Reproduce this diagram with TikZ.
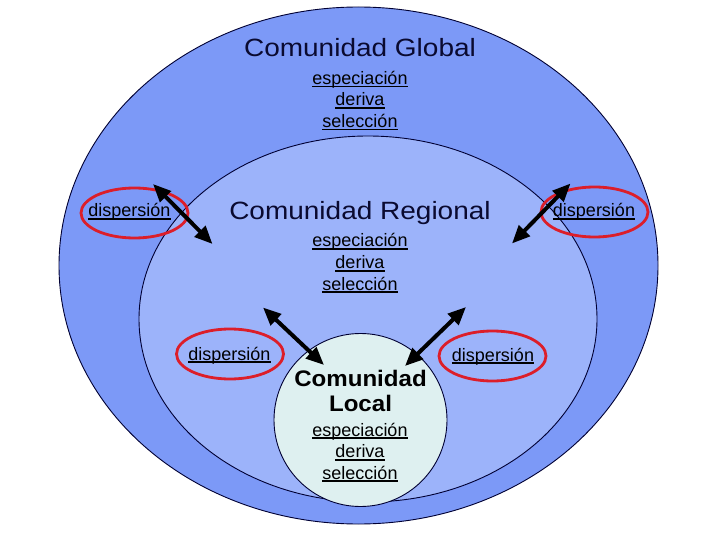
\documentclass[tikz,border=0pt]{standalone}
\usepackage{fontspec}
\setmainfont{Liberation Sans}
\newfontfamily\widefont[FakeStretch=1.12]{Liberation Sans}
\newfontfamily\localfont[FakeStretch=1.07]{Liberation Sans}
\usetikzlibrary{shapes.geometric,arrows.meta}
\definecolor{globalfill}{HTML}{7C99F7}
\definecolor{regionfill}{HTML}{9CB3FA}
\definecolor{localfill}{HTML}{DEF0F0}
\definecolor{ringline}{HTML}{000033}
\definecolor{dispred}{HTML}{DC1E2A}
\definecolor{titlecol}{HTML}{0A0A30}
\newcommand{\myul}[1]{\setbox0\hbox{#1}\leavevmode\rlap{\rule[-3pt]{\wd0}{1.6pt}}\box0}
\begin{document}
\begin{tikzpicture}[x=1pt,y=-1pt,
  ring/.style={ellipse, draw=ringline, line width=0.9pt, inner sep=0pt, outer sep=0pt},
  titletext/.style={anchor=base, inner sep=0pt, text=titlecol, font=\widefont\fontsize{25}{30}\selectfont},
  localtext/.style={anchor=base, inner sep=0pt, text=black, font=\localfont\bfseries\fontsize{22.5}{26}\selectfont},
  subtext/.style={anchor=base, inner sep=0pt, text=black, font=\fontsize{18}{21}\selectfont},
  disp/.style={ellipse, draw=dispred, line width=2.8pt, minimum width=107pt, minimum height=50pt, inner sep=0pt},
  flow/.style={{Triangle[length=18pt,width=15pt]}-{Triangle[length=18pt,width=15pt]}, line width=4pt, black}
]
\useasboundingbox (0,0) rectangle (720,540);
% communities
\node[ring, fill=globalfill, minimum width=599pt, minimum height=517pt] (global) at (358.5,265.5) {};
\node[ring, fill=regionfill, minimum width=458pt, minimum height=366pt] (regional) at (368,319) {};
\node[ring, fill=localfill, minimum width=173pt, minimum height=173pt] (local) at (360.5,420) {};
% global texts
\node[titletext] (gt) at (360,56.8) {Comunidad Global};
\node[subtext] (g1) at (360,84.5) {\myul{especiación}};
\node[subtext] (g2) at (360,106) {\myul{deriva}};
\node[subtext] (g3) at (360,127.5) {\myul{selección}};
% regional texts
\node[titletext] (rt) at (360,219.6) {Comunidad Regional};
\node[subtext] (r1) at (360,247) {\myul{especiación}};
\node[subtext] (r2) at (360,268.5) {\myul{deriva}};
\node[subtext] (r3) at (360,290) {\myul{selección}};
% local texts
\node[localtext] (lt1) at (360.5,386) {Comunidad};
\node[localtext] (lt2) at (360.5,411.5) {Local};
\node[subtext] (l1) at (360,436) {\myul{especiación}};
\node[subtext] (l2) at (360,457.5) {\myul{deriva}};
\node[subtext] (l3) at (360,479) {\myul{selección}};
% dispersion labels
\node[subtext] (dA) at (129.5,216.7) {\myul{dispersión}};
\node[subtext] (dB) at (594,216.7) {\myul{dispersión}};
\node[subtext] (dC) at (229.5,360) {\myul{dispersión}};
\node[subtext] (dD) at (493,361) {\myul{dispersión}};
\node[disp] (eA) at (134.5,213) {};
\node[disp] (eB) at (594.5,212) {};
\node[disp] (eC) at (230,354) {};
\node[disp] (eD) at (492.5,356) {};
% arrows
\coordinate (a1s) at (153,184); \coordinate (a1e) at (212.5,244);
\coordinate (a2s) at (570.5,183.5); \coordinate (a2e) at (512,243.5);
\coordinate (a3s) at (263,307.5); \coordinate (a3e) at (324,365);
\coordinate (a4s) at (466,307); \coordinate (a4e) at (405,366);
\draw[flow] (a1s) -- (a1e);
\draw[flow] (a2s) -- (a2e);
\draw[flow] (a3s) -- (a3e);
\draw[flow] (a4s) -- (a4e);
\end{tikzpicture}
\end{document}
